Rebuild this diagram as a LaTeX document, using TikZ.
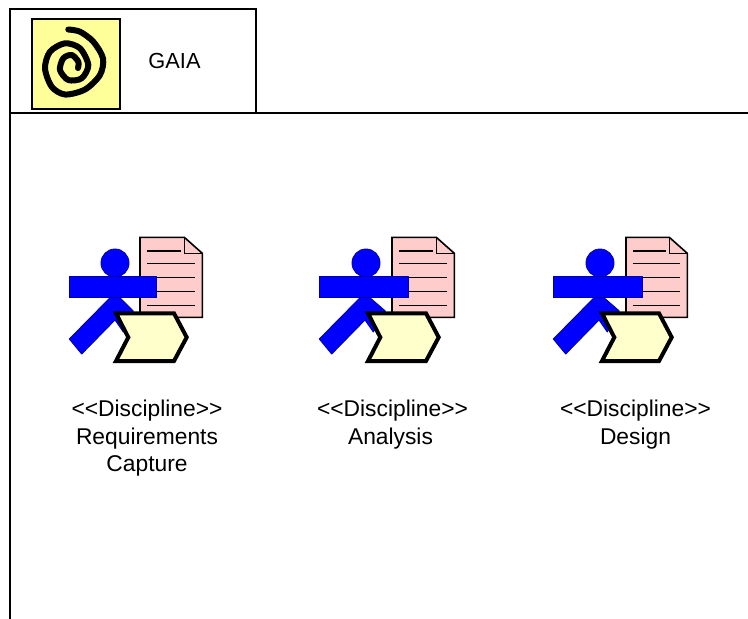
\documentclass[tikz,border=0pt]{standalone}
\usepackage{fontspec}
\setmainfont{Liberation Sans}
\definecolor{docpink}{RGB}{255,204,204}
\definecolor{chevy}{RGB}{255,255,204}
\definecolor{logoy}{RGB}{255,255,153}
\definecolor{persedge}{RGB}{0,0,170}
\tikzset{
  x=1pt,y=-1pt,
  framel/.style={draw=black,line width=1.5pt},
  person/.style={fill=blue,draw=persedge,line width=0.9pt,line join=round},
  docbody/.style={fill=docpink,draw=black,line width=1.6pt,line join=miter},
  docline/.style={draw=black,line width=1.4pt},
  chev/.style={fill=chevy,draw=black,line width=4pt,line join=miter},
  lab/.style={align=center,font=\fontsize{22.8}{27.3}\selectfont,inner sep=0pt},
}
\newcommand{\discicon}[3]{%
 \begin{scope}[xshift=#1pt]
  \path[docbody] (70.7+#2,237.3) -- (115+#3,237.3) -- (133+#3,253.3) -- (133+#3,317.3) -- (70.7+#2,317.3) -- cycle;
  \draw[docbody,fill=none] (115+#3,237.3) -- (115+#3,253.3) -- (133+#3,253.3);
  \draw[docline] (78+#2,251) -- (111.4+#3,251);
  \foreach \yy in {263.3,277.3,291.3,305.3}{\draw[docline] (78+#2,\yy) -- (125.5+#3,\yy);}
  \path[person] (40.7,297.7) -- (0,339) -- (12.4,354) -- (45.7,320) -- (54,332) -- (64+#2,311) -- (50.7,297.7) -- cycle;
  \path[person] (45.7+#2*0.5,263) circle[radius=14];
  \path[person] (0,276.7) rectangle (87.5+#2,297.7);
  \path[chev] (46.7+#2,313.3) -- (104.7+#3,313.3) -- (117.4+#3,337.3) -- (104.7+#3,361) -- (46.7+#2,361) -- (59+#2,337.3) -- cycle;
 \end{scope}}
\begin{document}
\begin{tikzpicture}
\useasboundingbox (0,0) rectangle (748,619);
\draw[framel] (10,619) -- (10,113) -- (748,113);
\draw[framel] (10,113) -- (10,9) -- (256,9) -- (256,113);
\draw[draw=black,line width=1.2pt,fill=logoy] (32,19) rectangle (120,109);
\draw[black,line width=6pt,line cap=round,line join=round] plot[smooth] coordinates {
 (68.3,29.5) (80,31.7) (93.3,41.7) (103,58.3) (100,75) (85,89.5) (65,94.5) (51.7,86.7) (45,68.3) (50,51.7) (65,43.3) (80,48.3) (88.3,65) (81.7,78.3) (68.3,80) (60,70) (63.3,58.3) (71.7,55) (78.3,61.7) (78,68)};
\node[font=\fontsize{21.8}{27}\selectfont,inner sep=0pt] (gaia) at (174.5,61) {GAIA};
\discicon{69.3}{0}{0}
\discicon{319.3}{2}{2}
\discicon{553.3}{2}{1}
\node[lab,anchor=north] (d1) at (147,400) {<{}<Discipline>{}>\\Requirements\\Capture};
\node[lab,anchor=north] (d2) at (392.5,400) {<{}<Discipline>{}>\\Analysis\hspace*{4pt}};
\node[lab,anchor=north] (d3) at (635.5,400) {<{}<Discipline>{}>\\Design};
\end{tikzpicture}
\end{document}
